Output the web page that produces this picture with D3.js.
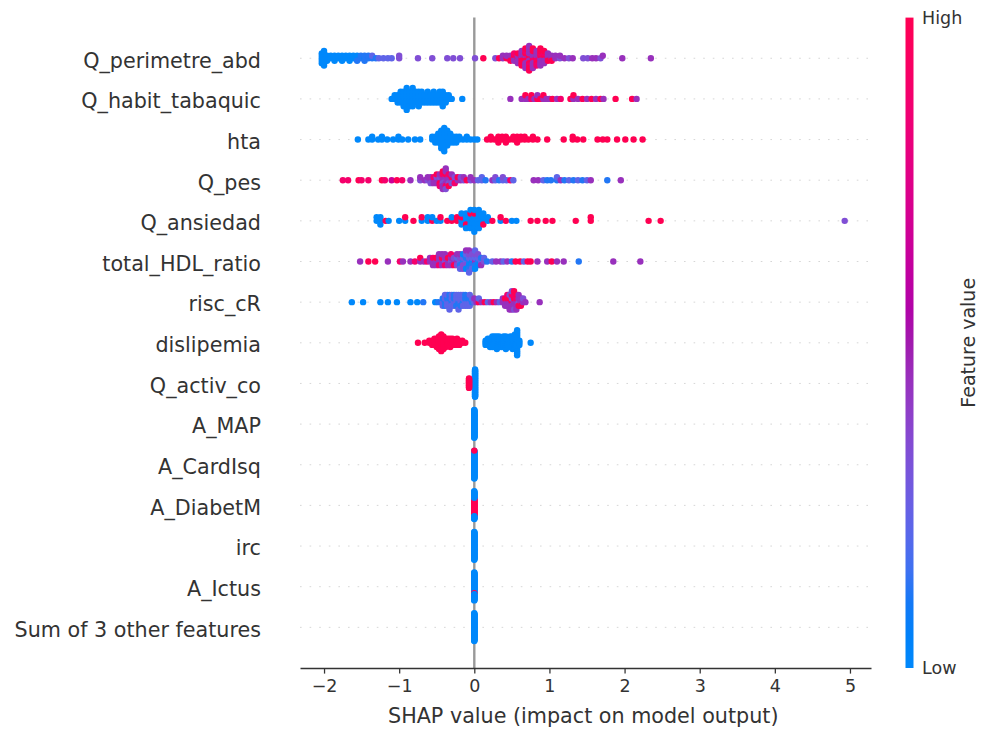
<!DOCTYPE html>
<html lang="en">
<head>
<meta charset="UTF-8">
<title>SHAP beeswarm</title>
<script src="https://d3js.org/d3.v7.min.js"></script>
<style>
  body { margin: 0; background: #fff; }
  svg { display: block; font-family: "DejaVu Sans", sans-serif; }
  .feat { font-size: 20.7px; fill: #333; }
  .tick text { font-size: 17.5px; fill: #333; font-family: "DejaVu Sans", sans-serif; }
  .tick line, .domain { stroke: #333; stroke-width: 1.27px; }
</style>
</head>
<body>
<svg id="chart" width="981" height="729"></svg>
<script>
// feature names, top to bottom
const features = ["Q_perimetre_abd", "Q_habit_tabaquic", "hta", "Q_pes", "Q_ansiedad",
  "total_HDL_ratio", "risc_cR", "dislipemia", "Q_activ_co", "A_MAP", "A_CardIsq",
  "A_DiabetM", "irc", "A_Ictus", "Sum of 3 other features"];

// each entry: [SHAP value, feature value of every dot at that value, 0 = low .. 9 = high]
const Q_perimetre_abd = [
  [-2.03, "00000"], [-2.0, "0000000"], [-1.96, "000"], [-1.91, "00"], [-1.86, "000"],
  [-1.81, "00"], [-1.76, "000"], [-1.71, "00"], [-1.66, "000"], [-1.61, "00"],
  [-1.56, "001"], [-1.51, "11"], [-1.46, "011"], [-1.41, "11"], [-1.36, "12"],
  [-1.31, "1"], [-1.27, "2"], [-1.21, "2"], [-1.15, "2"], [-1.1, "2"], [-1.0, "33"],
  [-0.75, "3"], [-0.56, "3"], [-0.36, "3"], [-0.28, "3"], [-0.19, "3"], [0.01, "3"],
  [0.12, "9"], [0.28, "3"], [0.33, "9"], [0.38, "44"], [0.43, "94"], [0.48, "449"],
  [0.53, "4948"], [0.58, "94494"], [0.63, "8494949"], [0.68, "949948494"],
  [0.73, "89449484949"], [0.78, "948449494"], [0.83, "9484948"], [0.88, "49484949"],
  [0.93, "494849"], [0.98, "8494"], [1.03, "449"], [1.08, "44"], [1.14, "34"],
  [1.2, "4"], [1.26, "3"], [1.31, "4"], [1.45, "3"], [1.51, "3"], [1.57, "4"],
  [1.62, "4"], [1.68, "3"], [1.71, "4"], [1.97, "4"], [2.35, "4"]
];
const Q_habit_tabaquic = [
  [-1.1, "0"], [-1.06, "00"], [-1.02, "000"], [-0.98, "0000"], [-0.94, "00000"],
  [-0.9, "0000000"], [-0.86, "00000"], [-0.82, "000000"], [-0.78, "0000"],
  [-0.74, "00000"], [-0.7, "0000"], [-0.66, "000"], [-0.62, "0000"], [-0.58, "000"],
  [-0.54, "0000"], [-0.5, "000"], [-0.46, "0000"], [-0.42, "00000"], [-0.38, "000"],
  [-0.34, "00"], [-0.3, "0"], [-0.16, "0"],
  [0.48, "4"], [0.63, "4"], [0.68, "49"], [0.72, "4"], [0.76, "89"], [0.8, "4"],
  [0.84, "94"], [0.88, "9"], [0.92, "49"], [0.96, "4"], [1.0, "4"], [1.04, "9"],
  [1.1, "4"], [1.15, "8"], [1.28, "9"], [1.32, "49"], [1.38, "4"], [1.44, "9"],
  [1.5, "4"], [1.56, "9"], [1.62, "4"], [1.68, "9"], [1.72, "4"], [1.88, "9"],
  [2.1, "9"], [2.16, "4"]
];
const hta = [
  [-1.55, "0"], [-1.41, "0"], [-1.36, "00"], [-1.28, "0"], [-1.23, "00"], [-1.16, "0"],
  [-1.08, "0"], [-1.01, "00"], [-0.96, "0"], [-0.88, "0"], [-0.79, "0"], [-0.72, "0"],
  [-0.56, "00"], [-0.52, "000"], [-0.48, "0000"], [-0.44, "0000000"], [-0.4, "000000000"],
  [-0.36, "000000"], [-0.32, "0000"], [-0.28, "000"], [-0.24, "000"], [-0.2, "00"],
  [-0.15, "0"], [-0.1, "00"], [-0.05, "0"], [0.0, "0"], [0.04, "0"],
  [0.17, "9"], [0.22, "99"], [0.27, "9"], [0.32, "999"], [0.37, "99"], [0.42, "999"],
  [0.47, "9"], [0.52, "99"], [0.57, "999"], [0.62, "99"], [0.67, "99"], [0.72, "9"],
  [0.78, "99"], [0.84, "9"], [0.97, "9"], [1.19, "9"], [1.31, "99"], [1.37, "9"],
  [1.45, "9"], [1.64, "9"], [1.71, "9"], [1.77, "9"], [1.9, "9"], [2.01, "9"],
  [2.12, "9"], [2.24, "9"]
];
const Q_pes = [
  [-1.75, "8"], [-1.68, "8"], [-1.54, "9"], [-1.5, "8"], [-1.41, "8"], [-1.23, "9"],
  [-1.19, "8"], [-1.1, "6"], [-1.03, "9"], [-0.96, "8"], [-0.85, "4"],
  [-0.72, "34"], [-0.66, "4"], [-0.62, "34"], [-0.58, "443"], [-0.54, "484"],
  [-0.5, "4349"], [-0.46, "43948"], [-0.42, "4438494"], [-0.38, "34498434"],
  [-0.34, "44389"], [-0.3, "4934"], [-0.26, "438"], [-0.22, "49"], [-0.18, "43"],
  [-0.14, "34"], [-0.1, "9"], [-0.05, "34"], [0.0, "4"],
  [0.05, "2"], [0.1, "22"], [0.15, "1"], [0.24, "4"], [0.28, "23"], [0.33, "1"],
  [0.38, "23"], [0.43, "2"], [0.48, "8"], [0.52, "2"],
  [0.79, "4"], [0.85, "4"], [0.92, "2"], [0.97, "1"], [1.02, "1"], [1.1, "12"],
  [1.15, "4"], [1.2, "1"], [1.26, "2"], [1.32, "1"], [1.38, "2"], [1.44, "1"],
  [1.5, "2"], [1.55, "4"], [1.77, "1"], [1.95, "4"]
];
const Q_ansiedad = [
  [-1.3, "00"], [-1.25, "000"], [-1.18, "9"], [-1.14, "0"], [-1.0, "0"], [-0.92, "09"],
  [-0.81, "9"], [-0.7, "09"], [-0.62, "00"], [-0.56, "90"], [-0.5, "0"], [-0.45, "09"],
  [-0.36, "9"], [-0.3, "90"], [-0.23, "99"], [-0.17, "0900"], [-0.11, "00900"],
  [-0.05, "000900"], [0.0, "0009000"], [0.06, "000000"], [0.12, "0090"], [0.18, "00"],
  [0.24, "9"], [0.35, "09"], [0.42, "9"], [0.5, "0"], [0.56, "0"], [0.75, "9"],
  [0.84, "9"], [0.95, "9"], [1.04, "9"], [1.35, "9"], [1.55, "99"], [2.32, "9"],
  [2.48, "9"], [4.93, "3"]
];
const total_HDL_ratio = [
  [-1.52, "4"], [-1.41, "9"], [-1.32, "9"], [-1.15, "4"], [-0.99, "8"], [-0.95, "4"],
  [-0.85, "4"], [-0.79, "8"], [-0.72, "49"], [-0.67, "4"], [-0.63, "8"], [-0.59, "44"],
  [-0.55, "484"], [-0.51, "494"], [-0.47, "4484"], [-0.43, "4944"], [-0.39, "3484"],
  [-0.35, "494"], [-0.31, "3448"], [-0.27, "439"], [-0.23, "4234"], [-0.19, "23142"],
  [-0.15, "12303"], [-0.11, "213204"], [-0.07, "1203142"], [-0.03, "02132"],
  [0.01, "421302"], [0.05, "1203"], [0.09, "214"], [0.13, "32"], [0.17, "1"],
  [0.24, "2"], [0.29, "4"], [0.35, "4"], [0.39, "2"], [0.44, "4"], [0.5, "1"],
  [0.55, "9"], [0.61, "9"], [0.66, "2"], [0.71, "9"], [0.75, "9"], [0.84, "4"],
  [0.97, "4"], [1.03, "9"], [1.1, "4"], [1.19, "4"], [1.39, "1"], [1.85, "4"], [2.21, "4"]
];
const risc_cR = [
  [-1.63, "0"], [-1.48, "0"], [-1.25, "0"], [-1.15, "0"], [-1.03, "0"], [-0.85, "0"],
  [-0.76, "0"], [-0.68, "1"], [-0.52, "0"], [-0.48, "1"],
  [-0.42, "212"], [-0.39, "1212"], [-0.36, "2122"], [-0.33, "21212"], [-0.3, "1222"],
  [-0.27, "2121"], [-0.24, "2212"], [-0.21, "12122"], [-0.18, "2212"], [-0.15, "1222"],
  [-0.12, "2121"], [-0.09, "212"], [-0.06, "2122"], [-0.03, "12"],
  [0.0, "24"], [0.03, "4"], [0.06, "92"], [0.1, "4"], [0.14, "9"], [0.18, "2"],
  [0.22, "4"], [0.26, "9"], [0.3, "4"], [0.34, "2"],
  [0.38, "44"], [0.41, "494"], [0.44, "4948"], [0.47, "49434"], [0.5, "934843"],
  [0.53, "494839"], [0.56, "48494"], [0.59, "3494"], [0.62, "449"], [0.65, "43"],
  [0.68, "4"], [0.87, "4"]
];
const dislipemia = [
  [-0.75, "9"], [-0.66, "9"], [-0.6, "99"], [-0.56, "999"], [-0.53, "9999"],
  [-0.5, "99999"], [-0.47, "9999999"], [-0.44, "999999999"], [-0.41, "9999999"],
  [-0.38, "99999"], [-0.35, "9999"], [-0.32, "99999"], [-0.29, "9999"], [-0.26, "999"],
  [-0.23, "9999"], [-0.2, "999"], [-0.16, "99"], [-0.12, "9"],
  [0.15, "000"], [0.18, "0000"], [0.21, "00000"], [0.24, "000000"], [0.27, "000000"],
  [0.3, "0000000"], [0.33, "000000"], [0.36, "00000"], [0.39, "000000"],
  [0.42, "0000000"], [0.45, "00000"], [0.48, "000000"], [0.51, "0000000"],
  [0.54, "00000000"], [0.57, "0000000000000"], [0.6, "000"], [0.75, "0"]
];
const Q_activ_co = [
  [0.01, "0000000000" + "0000000000" + "0000000000" + "0000000000" + "0000"],
  [-0.07, "9999999999" + "999999"]
];
const A_MAP = [
  [0.0, "0000000000" + "0000000000" + "0000000000" + "0000000000" + "0000000000" + "0000000000"]
];
const A_CardIsq = [
  [0.0, "0000000000" + "0000000000" + "0000000000" + "0000000000" + "0000000000" + "000000000" + "9"]
];
const A_DiabetM = [
  [0.0, "9999999999" + "9999999999" + "9999999999" + "9090909090909090" + "00000000000000"]
];
const irc = [
  [0.0, "0000000000" + "0000000000" + "0000000000" + "0000000000" + "0000000000" + "0000000000"]
];
const A_Ictus = [
  [0.0, "0000000000" + "0000000000" + "00000000" + "909" + "0000000000" + "0000000000" + "000000000"]
];
const sum_other = [
  [0.0, "0000000000" + "0000000000" + "0000000000" + "0000000000" + "0000000000" + "0000000000"]
];

const rows = [Q_perimetre_abd, Q_habit_tabaquic, hta, Q_pes, Q_ansiedad, total_HDL_ratio,
  risc_cR, dislipemia, Q_activ_co, A_MAP, A_CardIsq, A_DiabetM, irc, A_Ictus, sum_other];
const xTicks = [-2, -1, 0, 1, 2, 3, 4, 5];

const svg = d3.select("#chart");
const x = d3.scaleLinear().domain([-2.32, 5.28]).range([300, 871]);
const y = d3.scaleLinear().domain([-1, features.length]).range([668, 17.6]);

// shap red_blue colormap (Lch, lightness dips in the middle)
function shapColor(t) {
  const l = t < 0.5 ? 54 - 28 * t : 26 + 28 * t;
  return d3.hcl(266.9 + 113.4 * t, 70 + 20 * t, l).formatHex();
}

// beeswarm offsets the way shap does it: 100 bins, alternate up/down within a bin
function swarm(stacks) {
  const pts = [];
  stacks.forEach(([v, s]) => { for (const ch of s) pts.push({ v: v, fv: +ch / 9 }); });
  const lo = d3.min(pts, p => p.v), hi = d3.max(pts, p => p.v);
  pts.forEach(p => { p.q = Math.round(100 * (p.v - lo) / (hi - lo + 1e-8)); });
  const order = d3.range(pts.length).sort((a, b) => pts[a].q - pts[b].q || a - b);
  let layer = 0, last = -1;
  order.forEach(i => {
    if (pts[i].q !== last) layer = 0;
    pts[i].ys = Math.ceil(layer / 2) * ((layer % 2) * 2 - 1);
    layer++;
    last = pts[i].q;
  });
  const m = d3.max(pts, p => p.ys + 1);
  pts.forEach(p => { p.dy = p.ys * 0.9 * 0.4 / m; });
  return pts;
}

// dotted row lines
svg.append("g").selectAll("line")
  .data(features)
  .join("line")
  .attr("x1", 300).attr("x2", 871)
  .attr("y1", (d, i) => y(features.length - 1 - i))
  .attr("y2", (d, i) => y(features.length - 1 - i))
  .attr("stroke", "#cccccc").attr("stroke-width", 0.8)
  .attr("stroke-dasharray", "1.6 8");

// zero line
svg.append("line")
  .attr("x1", x(0)).attr("x2", x(0))
  .attr("y1", y(features.length)).attr("y2", y(-1))
  .attr("stroke", "#999999").attr("stroke-width", 2.4);

// dots
rows.forEach((stacks, i) => {
  const pos = features.length - 1 - i;
  svg.append("g").selectAll("circle")
    .data(swarm(stacks))
    .join("circle")
    .attr("cx", d => x(d.v))
    .attr("cy", d => y(pos + d.dy))
    .attr("r", 3.2)
    .attr("fill", d => shapColor(d.fv));
});

// feature labels
svg.append("g").selectAll("text")
  .data(features)
  .join("text")
  .attr("class", "feat")
  .attr("x", 261)
  .attr("y", (d, i) => y(features.length - 1 - i))
  .attr("dy", "0.45em")
  .attr("text-anchor", "end")
  .text(d => d);

// x axis
const axis = svg.append("g")
  .attr("transform", `translate(0,${y(-1)})`)
  .call(d3.axisBottom(x).tickValues(xTicks).tickSize(5.6).tickSizeOuter(0).tickPadding(5.6));
axis.select(".domain").attr("stroke", "#333");

svg.append("text")
  .attr("x", x(1.45)).attr("y", 723)
  .attr("text-anchor", "middle")
  .attr("font-size", 20.7).attr("fill", "#333")
  .text("SHAP value (impact on model output)");

// colour bar
const grad = svg.append("defs").append("linearGradient")
  .attr("id", "cbar").attr("x1", 0).attr("y1", 1).attr("x2", 0).attr("y2", 0);
grad.selectAll("stop")
  .data(d3.range(0, 1.0001, 0.05))
  .join("stop")
  .attr("offset", d => d)
  .attr("stop-color", d => shapColor(d));

svg.append("rect")
  .attr("x", 905.5).attr("y", y(features.length))
  .attr("width", 8).attr("height", y(-1) - y(features.length))
  .attr("fill", "url(#cbar)");

svg.append("text")
  .attr("x", 922).attr("y", y(features.length)).attr("dy", "0.36em")
  .attr("font-size", 17.5).attr("fill", "#333").text("High");
svg.append("text")
  .attr("x", 922).attr("y", y(-1)).attr("dy", "0.36em")
  .attr("font-size", 17.5).attr("fill", "#333").text("Low");
svg.append("text")
  .attr("transform", `translate(968,${(y(-1) + y(features.length)) / 2}) rotate(-90)`)
  .attr("text-anchor", "middle").attr("dy", "0.36em")
  .attr("font-size", 19).attr("fill", "#333")
  .text("Feature value");
</script>
</body>
</html>
